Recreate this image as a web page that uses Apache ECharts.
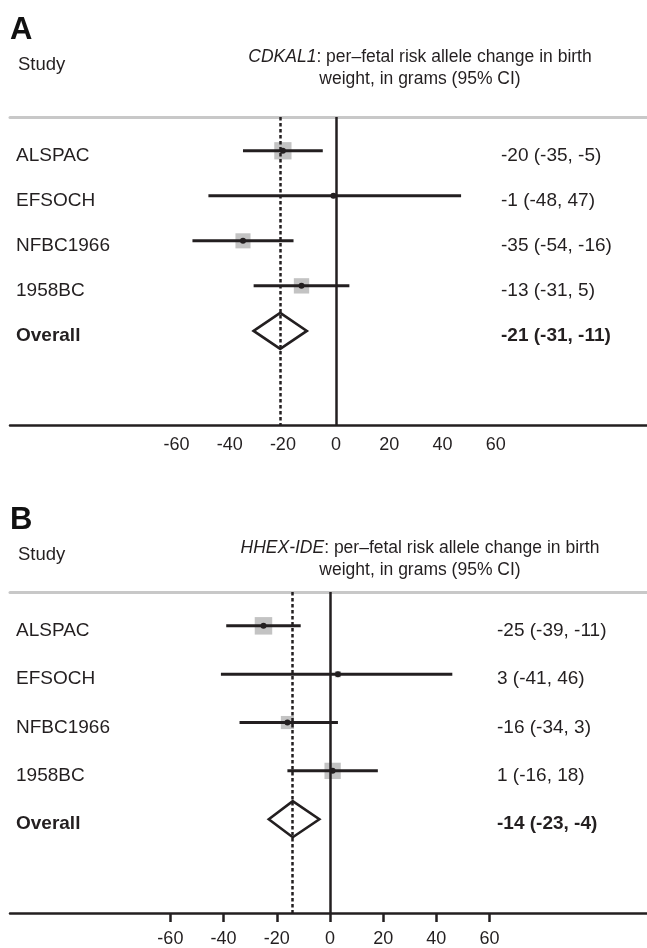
<!DOCTYPE html>
<html>
<head>
<meta charset="utf-8">
<script src="https://cdn.jsdelivr.net/npm/echarts@6/dist/echarts.min.js"></script>
<style>
  html, body { margin: 0; padding: 0; background: #fff; }
  #chart { width: 647px; height: 948px; }
</style>
</head>
<body>
<div id="chart"></div>
<script>
// forest plot: per-fetal risk allele change in birth weight (g, 95% CI)
const studies = ['ALSPAC', 'EFSOCH', 'NFBC1966', '1958BC'];
const ticks = [-60, -40, -20, 0, 20, 40, 60];

// panel A: CDKAL1
const estA = [-20, -1, -35, -13];
const loA = [-35, -48, -54, -31];
const hiA = [-5, 47, -16, 5];
const weightA = [38, 3, 29, 30];
const overallA = [-21, -31, -11]; // est, lo, hi

// panel B: HHEX-IDE
const estB = [-25, 3, -16, 1];
const loB = [-39, -41, -34, -16];
const hiB = [-11, 46, 3, 18];
const weightB = [39, 5, 22, 34];
const overallB = [-14, -23, -4];

const FONT = '"Liberation Sans", Arial, sans-serif';
const INK = '#231f20';

const panels = [
  { letter: 'A', gene: 'CDKAL1', est: estA, lo: loA, hi: hiA, w: weightA, overall: overallA,
    top: 117, height: 308, xMin: -122.6, xMax: 116.9, yMin: -0.75, yMax: 6.09,
    rightX: 501, showTicks: false, labelMargin: 11, letterY: 30, studyY: 65, titleY: 57 },
  { letter: 'B', gene: 'HHEX-IDE', est: estB, lo: loB, hi: hiB, w: weightB, overall: overallB,
    top: 592, height: 322, xMin: -120.3, xMax: 119.2, yMin: -0.7, yMax: 5.94,
    rightX: 497, showTicks: true, labelMargin: 17, letterY: 520, studyY: 555, titleY: 548 }
];

function ciText(e, l, h) { return e + ' (' + l + ', ' + h + ')'; }

function studyRenderer(rightX) {
  return (params, api) => {
    const lo = api.value(0), hi = api.value(1), est = api.value(2), row = api.value(3);
    const side = Math.sqrt(api.value(4)) * 2.8;
    const p0 = api.coord([lo, row]), p1 = api.coord([hi, row]), pe = api.coord([est, row]);
    const left = params.coordSys.x + 6;
    return {
      type: 'group',
      children: [
        { type: 'rect', shape: { x: pe[0] - side / 2, y: pe[1] - side / 2, width: side, height: side },
          style: { fill: '#c3c3c3' } },
        { type: 'line', shape: { x1: p0[0], y1: p0[1], x2: p1[0], y2: p1[1] },
          style: { stroke: INK, lineWidth: 3 } },
        { type: 'circle', shape: { cx: pe[0], cy: pe[1], r: 3 }, style: { fill: INK } },
        { type: 'text', x: left, y: pe[1] + 5,
          style: { text: studies[params.dataIndex], fontSize: 19, fontFamily: FONT, fill: INK,
            verticalAlign: 'middle' } },
        { type: 'text', x: rightX, y: pe[1] + 5,
          style: { text: ciText(est, lo, hi), fontSize: 19, fontFamily: FONT, fill: INK,
            verticalAlign: 'middle' } }
      ]
    };
  };
}

function overallRenderer(rightX) {
  return (params, api) => {
    const est = api.value(0), lo = api.value(1), hi = api.value(2), row = api.value(3);
    const pl = api.coord([lo, row]), pr = api.coord([hi, row]), pe = api.coord([est, row]);
    const hh = 18;
    const left = params.coordSys.x + 6;
    return {
      type: 'group',
      children: [
        { type: 'polygon',
          shape: { points: [[pl[0], pl[1]], [pe[0], pe[1] - hh], [pr[0], pr[1]], [pe[0], pe[1] + hh]] },
          style: { fill: 'none', stroke: INK, lineWidth: 2.6, lineJoin: 'miter' } },
        { type: 'text', x: left, y: pe[1] + 5,
          style: { text: 'Overall', fontSize: 19, fontWeight: 'bold', fontFamily: FONT, fill: INK,
            verticalAlign: 'middle' } },
        { type: 'text', x: rightX, y: pe[1] + 5,
          style: { text: ciText(est, lo, hi), fontSize: 19, fontWeight: 'bold', fontFamily: FONT,
            fill: INK, verticalAlign: 'middle' } }
      ]
    };
  };
}

const grid = [], xAxis = [], yAxis = [], series = [], graphic = [];

panels.forEach((p, i) => {
  grid.push({ left: 10, right: 0, top: p.top, height: p.height });
  xAxis.push({
    type: 'value', gridIndex: i, min: p.xMin, max: p.xMax, position: 'bottom',
    axisLine: { show: true, onZero: false, lineStyle: { color: INK, width: 2.5 } },
    axisTick: { show: p.showTicks, customValues: ticks, length: 9, lineStyle: { color: INK, width: 2.5 } },
    axisLabel: { customValues: ticks, fontSize: 18, fontFamily: FONT, color: INK, margin: p.labelMargin },
    splitLine: { show: false }
  });
  xAxis.push({
    type: 'value', gridIndex: i, min: p.xMin, max: p.xMax, position: 'top',
    axisLine: { show: true, onZero: false, lineStyle: { color: '#c8c8c8', width: 3 } },
    axisTick: { show: false }, axisLabel: { show: false }, splitLine: { show: false }
  });
  yAxis.push({ type: 'value', gridIndex: i, min: p.yMin, max: p.yMax, inverse: true, show: false });

  // reference line at 0 and dotted line at the pooled estimate
  series.push({
    type: 'line', xAxisIndex: i * 2, yAxisIndex: i, data: [], silent: true,
    markLine: {
      symbol: 'none', silent: true, label: { show: false }, animation: false,
      data: [
        { xAxis: 0, lineStyle: { color: INK, width: 2.5, type: 'solid' } },
        { xAxis: p.overall[0], lineStyle: { color: INK, width: 2.5, type: [3.5, 2.5] } }
      ]
    }
  });
  series.push({
    type: 'custom', xAxisIndex: i * 2, yAxisIndex: i, silent: true, animation: false,
    renderItem: studyRenderer(p.rightX),
    data: studies.map((s, k) => [p.lo[k], p.hi[k], p.est[k], k, p.w[k]])
  });
  series.push({
    type: 'custom', xAxisIndex: i * 2, yAxisIndex: i, silent: true, animation: false,
    renderItem: overallRenderer(p.rightX),
    data: [[p.overall[0], p.overall[1], p.overall[2], studies.length]]
  });

  graphic.push(
    { type: 'text', x: 10, y: p.letterY,
      style: { text: p.letter, fontSize: 31, fontWeight: 'bold', fontFamily: FONT, fill: '#111',
        verticalAlign: 'middle' } },
    { type: 'text', x: 18, y: p.studyY,
      style: { text: 'Study', fontSize: 18.5, fontFamily: FONT, fill: INK, verticalAlign: 'middle' } },
    { type: 'text', x: 420, y: p.titleY,
      style: {
        text: '{i|' + p.gene + '}{n|: per\u2013fetal risk allele change in birth}',
        align: 'center', verticalAlign: 'middle', fontSize: 17.5, fontFamily: FONT, fill: INK,
        rich: {
          i: { fontStyle: 'italic', fontSize: 17.5, fontFamily: FONT, fill: INK },
          n: { fontSize: 17.5, fontFamily: FONT, fill: INK }
        }
      } },
    { type: 'text', x: 420, y: p.titleY + 22,
      style: { text: 'weight, in grams (95% CI)', align: 'center', verticalAlign: 'middle',
        fontSize: 17.5, fontFamily: FONT, fill: INK } }
  );
});

const chart = echarts.init(document.getElementById('chart'), null, { renderer: 'canvas' });
chart.setOption({
  animation: false,
  backgroundColor: '#fff',
  grid, xAxis, yAxis, series, graphic
});
window.addEventListener('resize', () => chart.resize());
</script>
</body>
</html>
